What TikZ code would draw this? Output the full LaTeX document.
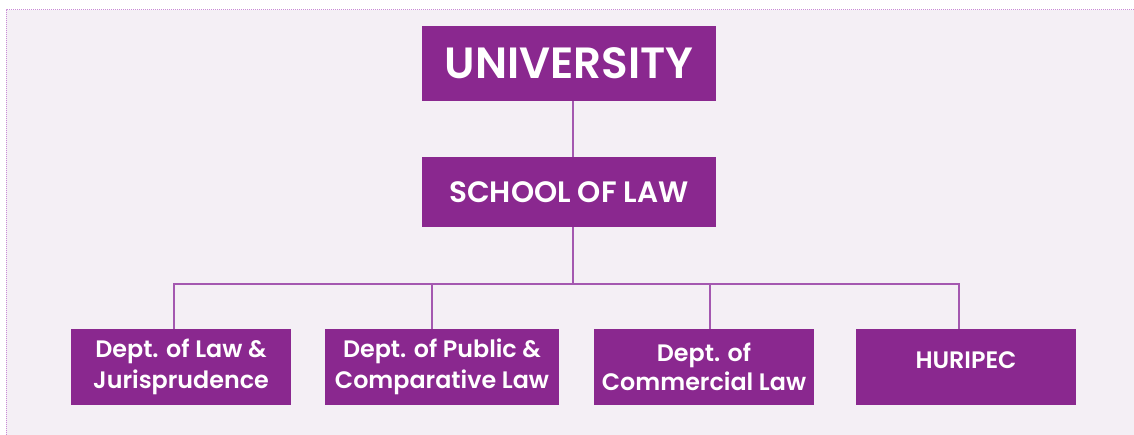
\documentclass[tikz,border=0pt]{standalone}
\usepackage{fontspec}
\newfontfamily\pop{Poppins SemiBold}
\definecolor{bg}{HTML}{F4EFF5}
\definecolor{boxc}{HTML}{8A288F}
\definecolor{linec}{HTML}{A458B0}
\definecolor{dotc}{HTML}{C98AD6}
\begin{document}
\begin{tikzpicture}[x=1pt,y=-1pt,
  box/.style={fill=boxc,text=white,inner sep=0pt,align=center,font=\pop},
  conn/.style={draw=linec,line width=1.3pt}]
\useasboundingbox (0,0) rectangle (1134,435);
\fill[bg] (6,10) rectangle (1134,435);
\draw[dotc,densely dotted,line width=1pt] (6,435) -- (6,10) -- (1134,10);
\node[box,minimum width=294pt,minimum height=75pt,font=\pop\fontsize{43.7}{50}\selectfont] (uni) at (569,63.5) {UNIVERSITY};
\node[box,minimum width=294pt,minimum height=70pt,font=\pop\fontsize{29.5}{34}\selectfont] (sol) at (569,192) {SCHOOL OF LAW};
\tikzset{dept/.style={box,minimum height=76pt,font=\pop\fontsize{23.8}{29}\selectfont}}
\node[dept,minimum width=220pt] (d1) at (181,367) {\raisebox{-2pt}{\shortstack{Dept. of Law \&\\[3pt]Jurisprudence}}};
\node[dept,minimum width=234pt] (d2) at (442,367) {\raisebox{-2pt}{\shortstack{Dept. of Public \&\\[3pt]Comparative Law}}};
\node[dept,minimum width=220pt] (d3) at (704,367) {Dept. of\\Commercial Law};
\node[dept,minimum width=220pt] (d4) at (966,367) {\raisebox{13pt}{HURIPEC}};
\coordinate (bus) at (573,284);
\draw[conn] (uni.south -| bus) -- (sol.north -| bus);
\draw[conn] (sol.south -| bus) -- (bus);
\draw[conn] (174,0 |- d1.north) -- (174,284) -- (959,284) -- (959,0 |- d4.north);
\draw[conn] (432,0 |- d2.north) -- (432,284);
\draw[conn] (710,0 |- d3.north) -- (710,284);
\end{tikzpicture}
\end{document}
